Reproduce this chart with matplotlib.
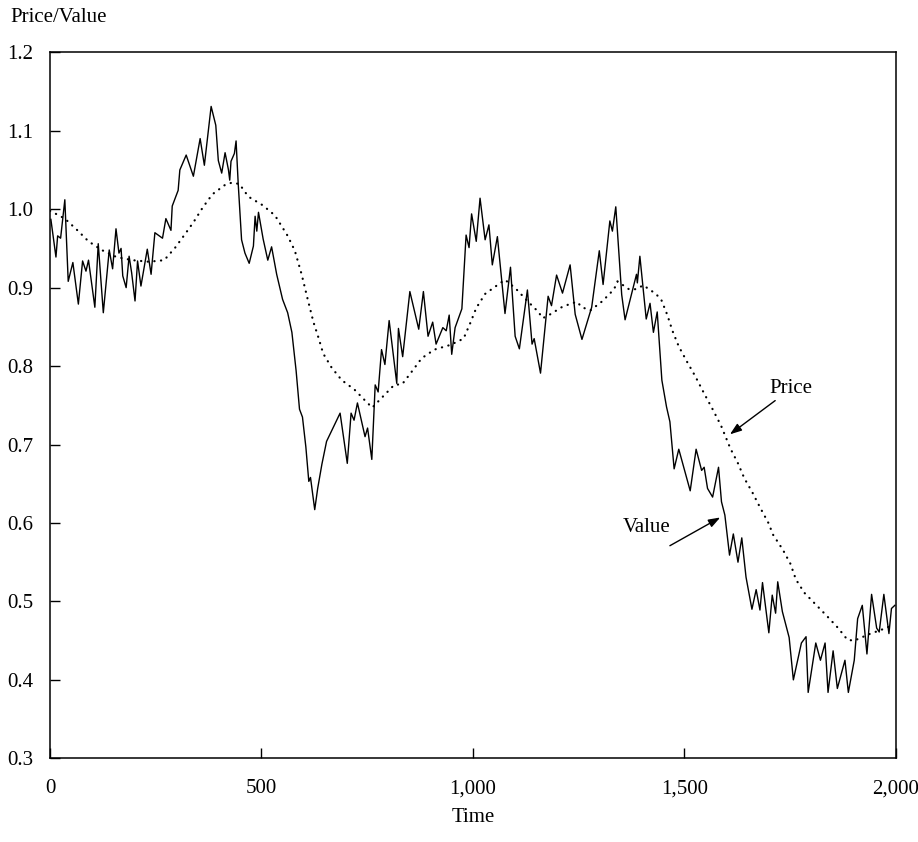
import numpy as np
import matplotlib
matplotlib.use("Agg")
from matplotlib import pyplot as plt
from matplotlib.ticker import FuncFormatter

# Value series (solid line)
value_t = [2, 14, 18, 25, 35, 43, 54, 67, 77, 85, 91, 106, 114, 126, 140, 148, 156, 163, 168, 172,
           180, 187, 193, 201, 207, 215, 230, 239, 248, 266, 274, 286, 289, 303, 307, 322, 339, 355, 365, 381,
           392, 398, 406, 414, 422, 425, 428, 436, 440, 445, 453, 461, 471, 481, 485, 489, 493, 504, 515, 524,
           536, 550, 562, 572, 582, 590, 597, 605, 612, 616, 626, 633, 643, 654, 686, 703, 712, 719, 727, 745,
           751, 761, 769, 776, 784, 792, 802, 820, 824, 834, 851, 872, 883, 894, 905, 913, 929, 937, 944, 950,
           958, 974, 984, 991, 997, 1008, 1017, 1029, 1038, 1046, 1058, 1076, 1089, 1100, 1110, 1129, 1140, 1145, 1160, 1178,
           1186, 1198, 1212, 1230, 1242, 1258, 1281, 1299, 1308, 1324, 1330, 1338, 1346, 1352, 1360, 1387, 1389, 1395, 1410, 1419,
           1427, 1436, 1447, 1458, 1466, 1476, 1487, 1514, 1528, 1541, 1547, 1555, 1567, 1581, 1588, 1596, 1607, 1616, 1627, 1636,
           1646, 1660, 1670, 1679, 1685, 1700, 1708, 1716, 1721, 1732, 1748, 1758, 1777, 1788, 1793, 1811, 1822, 1833, 1840, 1852,
           1862, 1880, 1888, 1902, 1910, 1921, 1932, 1943, 1955, 1961, 1972, 1984, 1990, 1998]
value_v = [0.987, 0.939, 0.966, 0.963, 1.012, 0.908, 0.932, 0.879, 0.934, 0.921, 0.935, 0.875, 0.956, 0.868, 0.948, 0.924, 0.975, 0.944, 0.950, 0.915,
           0.900, 0.940, 0.919, 0.883, 0.934, 0.902, 0.949, 0.917, 0.970, 0.963, 0.988, 0.973, 1.004, 1.024, 1.050, 1.069, 1.042, 1.090, 1.056, 1.131,
           1.107, 1.062, 1.046, 1.072, 1.050, 1.037, 1.061, 1.071, 1.087, 1.033, 0.961, 0.944, 0.931, 0.953, 0.991, 0.972, 0.996, 0.962, 0.935, 0.952,
           0.917, 0.885, 0.868, 0.843, 0.794, 0.745, 0.735, 0.697, 0.653, 0.658, 0.617, 0.644, 0.675, 0.704, 0.740, 0.676, 0.740, 0.731, 0.753, 0.710,
           0.721, 0.681, 0.776, 0.767, 0.821, 0.802, 0.858, 0.778, 0.848, 0.812, 0.895, 0.847, 0.895, 0.838, 0.856, 0.828, 0.849, 0.845, 0.865, 0.815,
           0.849, 0.873, 0.967, 0.951, 0.994, 0.959, 1.014, 0.961, 0.980, 0.929, 0.965, 0.867, 0.926, 0.838, 0.822, 0.897, 0.828, 0.835, 0.791, 0.889,
           0.877, 0.916, 0.893, 0.929, 0.866, 0.834, 0.875, 0.947, 0.904, 0.985, 0.972, 1.003, 0.938, 0.891, 0.859, 0.917, 0.906, 0.940, 0.860, 0.880,
           0.843, 0.869, 0.782, 0.748, 0.729, 0.669, 0.694, 0.641, 0.694, 0.667, 0.671, 0.644, 0.633, 0.671, 0.627, 0.610, 0.559, 0.586, 0.550, 0.581,
           0.531, 0.490, 0.515, 0.489, 0.524, 0.460, 0.508, 0.485, 0.525, 0.487, 0.454, 0.400, 0.447, 0.455, 0.384, 0.447, 0.425, 0.447, 0.384, 0.437,
           0.389, 0.425, 0.384, 0.425, 0.478, 0.495, 0.433, 0.509, 0.466, 0.461, 0.509, 0.459, 0.491, 0.495]

# Price series (dotted line)
price_t = [0, 35, 63, 91, 122, 157, 195, 234, 270, 296, 319, 340, 361, 384, 414, 431, 448, 469, 503, 532,
           562, 579, 595, 609, 623, 635, 646, 666, 690, 720, 747, 762, 787, 814, 833, 857, 879, 909, 947, 978,
           994, 1008, 1029, 1060, 1076, 1101, 1129, 1155, 1165, 1180, 1213, 1246, 1258, 1278, 1307, 1334, 1342, 1369, 1386, 1403,
           1433, 1446, 1460, 1472, 1487, 1506, 1526, 1547, 1567, 1587, 1609, 1627, 1642, 1661, 1679, 1699, 1710, 1733, 1751, 1764,
           1784, 1811, 1838, 1864, 1886, 1902, 1936, 1977, 1996]
price_v = [0.998, 0.988, 0.974, 0.959, 0.948, 0.939, 0.935, 0.933, 0.935, 0.951, 0.968, 0.984, 1.002, 1.019, 1.031, 1.034, 1.032, 1.016, 1.005, 0.992,
           0.966, 0.947, 0.917, 0.886, 0.856, 0.836, 0.816, 0.798, 0.782, 0.770, 0.755, 0.747, 0.761, 0.776, 0.777, 0.794, 0.810, 0.821, 0.827, 0.835,
           0.855, 0.874, 0.892, 0.904, 0.910, 0.899, 0.883, 0.869, 0.861, 0.865, 0.876, 0.882, 0.875, 0.871, 0.883, 0.898, 0.908, 0.898, 0.898, 0.903,
           0.892, 0.884, 0.865, 0.845, 0.825, 0.806, 0.787, 0.765, 0.745, 0.724, 0.695, 0.676, 0.657, 0.639, 0.620, 0.600, 0.585, 0.566, 0.548, 0.528,
           0.511, 0.496, 0.481, 0.466, 0.451, 0.450, 0.458, 0.466, 0.471]

x_ticks = [0, 500, 1000, 1500, 2000]
y_ticks = [0.3, 0.4, 0.5, 0.6, 0.7, 0.8, 0.9, 1.0, 1.1, 1.2]

plt.rcParams['font.family'] = ['Liberation Serif', 'DejaVu Serif']

fig = plt.figure(figsize=(9.18, 8.42), dpi=100)
ax = fig.add_axes([0.0545, 0.0994, 0.9212, 0.8385])

ax.plot(value_t, value_v, color='black', lw=1.0)
ax.plot(price_t, price_v, color='black', lw=1.6, linestyle=(0, (0.1, 2.9)),
        dash_capstyle='round')

ax.set_xlim(0, 2000)
ax.set_ylim(0.3, 1.2)
ax.set_xticks(x_ticks)
ax.set_yticks(y_ticks)
ax.xaxis.set_major_formatter(FuncFormatter(lambda v, p: f"{int(v):,}"))
ax.yaxis.set_major_formatter(FuncFormatter(lambda v, p: f"{v:.1f}"))
ax.tick_params(direction='in', length=7, width=1, labelsize=15, top=False, right=False)
ax.tick_params(axis='x', pad=15)
ax.tick_params(axis='y', pad=12)
for s in ax.spines.values():
    s.set_linewidth(1.1)

ax.set_xlabel('Time', fontsize=15, labelpad=7)
fig.text(0.011, 0.979, 'Price/Value', fontsize=15, ha='left', va='center')

# annotations
arrow = dict(arrowstyle='-|>,head_length=0.7,head_width=0.25', color='black', lw=1.0,
             shrinkA=0, shrinkB=0)
ax.annotate('', xy=(1608, 0.713), xytext=(1715, 0.756), arrowprops=arrow)
ax.text(1752, 0.772, 'Price', fontsize=15, ha='center', va='center')
ax.annotate('', xy=(1585, 0.607), xytext=(1466, 0.571), arrowprops=arrow)
ax.text(1410, 0.594, 'Value', fontsize=15, ha='center', va='center')

fig.savefig('out.png', dpi=100)
